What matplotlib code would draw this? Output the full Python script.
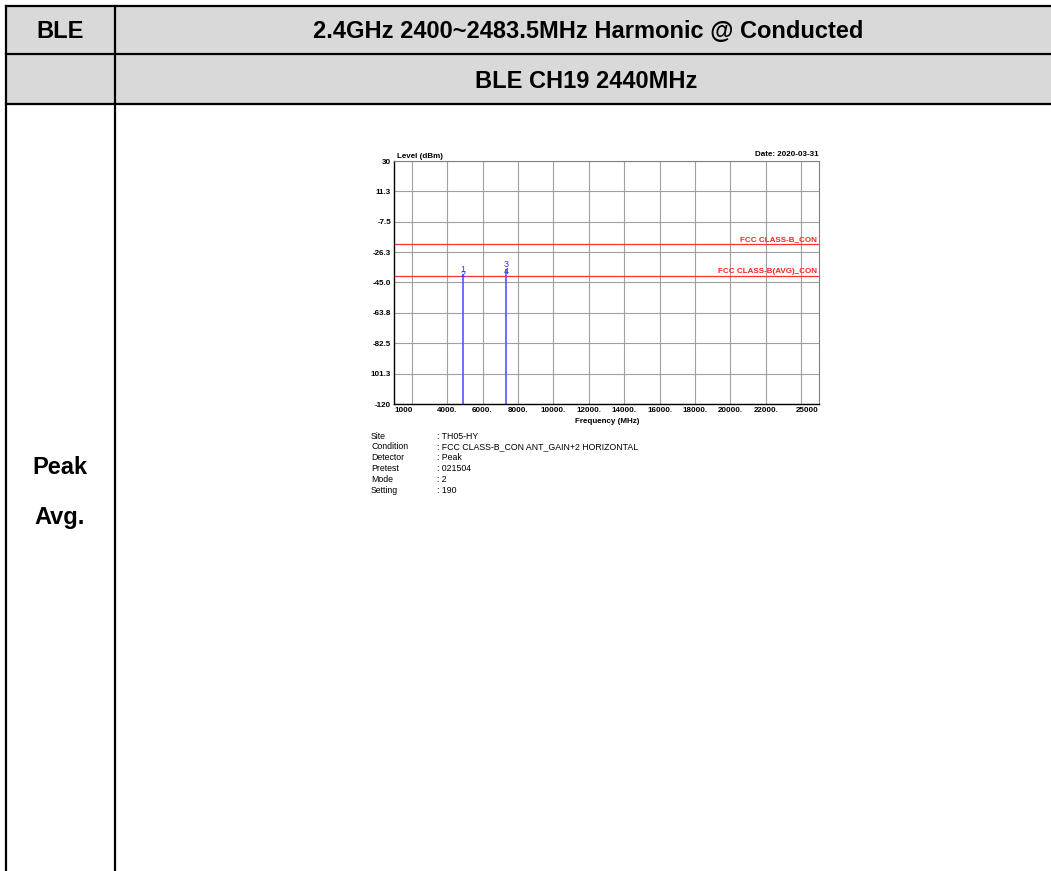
import numpy as np
import matplotlib
matplotlib.use('Agg')
import matplotlib.pyplot as plt

plt.rcParams['font.family'] = ['Liberation Sans', 'DejaVu Sans']

# header table text
band_title = '2.4GHz 2400~2483.5MHz Harmonic @ Conducted'
channel_title = 'BLE CH19 2440MHz'
mode_name = 'BLE'
row_labels = ['Peak', 'Avg.']

# spectrum data
harm_freqs = [4880, 7320]
peak_levels = [-39.5, -36.9]
avg_levels = [-42.6, -41.2]
peak_ids = ['1', '3']
avg_ids = ['2', '4']

limit_values = [-21.2, -41.2]
limit_names = ['FCC CLASS-B_CON', 'FCC CLASS-B(AVG)_CON']

y_ticks = [30, 11.25, -7.5, -26.25, -45.0, -63.75, -82.5, -101.25, -120]
y_labels = ['30', '11.3', '-7.5', '-26.3', '-45.0', '-63.8', '-82.5', '101.3', '-120']
x_ticks = [1000, 4000, 6000, 8000, 10000, 12000, 14000, 16000, 18000, 20000, 22000, 25000]
x_labels = ['1000', '4000.', '6000.', '8000.', '10000.', '12000.', '14000.', '16000.',
            '18000.', '20000.', '22000.', '25000']
x_grid = list(range(2000, 25000, 2000))

info_keys = ['Site', 'Condition', 'Detector', 'Pretest', 'Mode', 'Setting']
info_vals = [': TH05-HY', ': FCC CLASS-B_CON ANT_GAIN+2 HORIZONTAL', ': Peak',
             ': 021504', ': 2', ': 190']

W, H = 1051, 871
fig = plt.figure(figsize=(W / 100, H / 100), dpi=100)

# ---- table in pixel coordinates ----
tb = fig.add_axes([0, 0, 1, 1])
tb.set_xlim(0, W)
tb.set_ylim(H, 0)
tb.axis('off')
tb.fill_between([6, W], 6, 104, color='#d9d9d9', lw=0)
lw = 1.6
for yy in [6, 54, 104]:
    tb.plot([6, W], [yy, yy], color='black', lw=lw)
for xx in [6, 115]:
    tb.plot([xx, xx], [6, H], color='black', lw=lw)
hfs = 17
tb.text(60, 31, mode_name, ha='center', va='center', fontsize=hfs, fontweight='bold')
tb.text(588, 31, band_title, ha='center', va='center', fontsize=hfs, fontweight='bold')
tb.text(586, 81, channel_title, ha='center', va='center', fontsize=hfs, fontweight='bold')
tb.text(60, 467, row_labels[0], ha='center', va='center', fontsize=hfs, fontweight='bold')
tb.text(60, 517, row_labels[1], ha='center', va='center', fontsize=hfs, fontweight='bold')

# chart annotations outside the plot area
tb.text(397, 156, 'Level (dBm)', ha='left', va='center', fontsize=5.8, fontweight='bold')
tb.text(819, 155, 'Date: 2020-03-31', ha='right', va='center', fontsize=5.8, fontweight='bold')
tb.text(607, 421, 'Frequency (MHz)', ha='center', va='center', fontsize=5.8, fontweight='bold')
for i, (k, v) in enumerate(zip(info_keys, info_vals)):
    yy = 436 + 10.8 * i
    tb.text(371, yy, k, ha='left', va='center', fontsize=6.3)
    tb.text(437, yy, v, ha='left', va='center', fontsize=6.3)

# ---- spectrum plot ----
x0, x1, y0, y1 = 394, 819, 161, 404
ax = fig.add_axes([x0 / W, 1 - y1 / H, (x1 - x0) / W, (y1 - y0) / H])
ax.set_xlim(1000, 25000)
ax.set_ylim(-120, 30)
ax.set_xticks(x_ticks)
ax.set_xticklabels(x_labels, fontsize=5.8, fontweight='bold')
ax.set_yticks(y_ticks)
ax.set_yticklabels(y_labels, fontsize=5.8, fontweight='bold')
ax.tick_params(axis='both', which='both', length=0, pad=2)
ax.grid(True, which='major', axis='y', color='#a0a0a0', lw=0.8)
for g in x_grid:
    ax.axvline(g, color='#a0a0a0', lw=0.8, zorder=0.5)
xl = ax.get_xticklabels()
xl[0].set_ha('left')
xl[-1].set_ha('right')
for s in ['left', 'bottom']:
    ax.spines[s].set_color('black')
    ax.spines[s].set_linewidth(1.0)
for s in ['top', 'right']:
    ax.spines[s].set_color('#808080')
    ax.spines[s].set_linewidth(0.8)

for val, name in zip(limit_values, limit_names):
    ax.axhline(val, color='#ff3030', lw=0.9)
    ax.text(24900, val + 0.6, name, color='#ff2020', ha='right', va='bottom',
            fontsize=5.8, fontweight='bold')

ax.vlines(harm_freqs, -120, peak_levels, color='#5555ff', lw=1.2)
for f, p, a, pi, ai in zip(harm_freqs, peak_levels, avg_levels, peak_ids, avg_ids):
    ax.text(f, p, pi, color='#3333ee', ha='center', va='bottom', fontsize=6.5)
    ax.text(f, a, ai, color='#3333ee', ha='center', va='bottom', fontsize=6.5)

fig.savefig('out.png', dpi=100)
